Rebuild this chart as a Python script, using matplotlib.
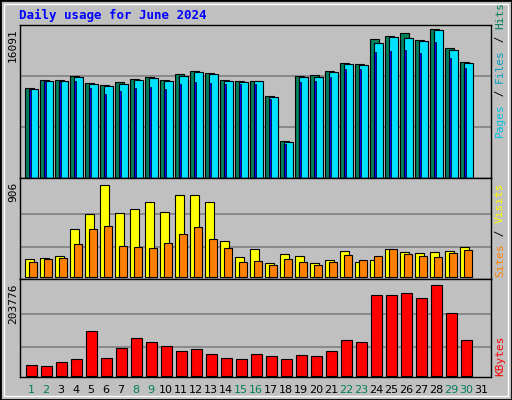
import matplotlib.pyplot as plt
import numpy as np

days = list(range(1, 32))
n = 30  # days with data
weekend = [1, 2, 8, 9, 15, 16, 22, 23, 29, 30]

hits = [9690, 10550, 10550, 10980, 10220, 10010, 10330, 10660, 10870, 10550,
        11190, 11520, 11300, 10550, 10440, 10440, 8820, 3960, 10980, 11090,
        11520, 12380, 12270, 14970, 15300, 15620, 14860, 16091, 14000, 12490]
files = [9580, 10440, 10440, 10870, 10110, 9900, 10110, 10550, 10760, 10440,
         10980, 11410, 11190, 10440, 10330, 10440, 8710, 3850, 10870, 10870,
         11410, 12270, 12160, 14540, 15190, 15080, 14750, 15940, 13780, 12380]
pages = [9500, 10480, 10370, 10480, 9720, 9070, 9400, 9720, 9830, 9610,
         10150, 10370, 10260, 10150, 10150, 10150, 8530, 3670, 10370, 10480,
         10910, 11770, 11770, 13610, 13720, 13820, 13500, 14690, 12960, 11880]
sites = [180, 190, 203, 474, 621, 906, 631, 670, 739, 641, 808, 808, 739, 356, 199,
         278, 141, 229, 209, 141, 170, 258, 151, 170, 278, 249, 239, 249, 258, 298]
visits = [150, 180, 190, 327, 474, 504, 307, 298, 288, 337, 425, 494, 376, 288, 150,
          160, 121, 180, 150, 121, 150, 219, 170, 209, 278, 229, 209, 199, 239, 268]
kbytes = [25290, 23050, 31980, 38670, 101140, 40900, 63210, 85520, 76600, 67680,
          56520, 60980, 49830, 40900, 38670, 49830, 45370, 38670, 47600, 45370,
          56520, 81060, 76600, 181460, 181460, 185930, 174770, 203776, 141300, 81060]

W, H = 512, 400
fig = plt.figure(figsize=(W / 100, H / 100), dpi=100, facecolor='#C0C0C0')
mono = 'DejaVu Sans Mono'

# outer border
fig.add_artist(plt.Rectangle((0, 0), 1, 1, transform=fig.transFigure, fill=False,
                             edgecolor='black', linewidth=2))
fig.add_artist(plt.Rectangle((4 / W, 4 / H), 504 / W, 392 / H, transform=fig.transFigure,
                             fill=False, edgecolor='white', linewidth=1))


def panel(y0, y1):
    ax = fig.add_axes([20 / W, 1 - y1 / H, 471 / W, (y1 - y0) / H])
    ax.set_facecolor('#C0C0C0')
    ax.set_xlim(1 - 11 / 15, 1 - 11 / 15 + 471 / 15)
    ax.set_xticks([])
    ax.set_yticks([])
    for s in ax.spines.values():
        s.set_color('black')
        s.set_linewidth(1)
    return ax


x = np.arange(1, n + 1)
px = 1 / 15  # one pixel in day units

ax1 = panel(25, 178)
ax1.set_ylim(0, 153 * 108)
for g in [5508, 11016]:
    ax1.axhline(g, color='#808080', lw=1.2, zorder=0)
ax1.bar(x - 6 * px, hits, width=9 * px, align='edge', color='#00805C', edgecolor='black', lw=0.8)
ax1.bar(x - 2.5 * px, files, width=9 * px, align='edge', color='#00E0FF', edgecolor='black', lw=0.8)
ax1.bar(x - 2.5 * px, pages, width=2 * px, align='edge', color='#0000FF', edgecolor='black', lw=0.5)

ax2 = panel(178, 279)
ax2.set_ylim(-2 * 9.8, 99 * 9.8)
for g in [298, 621]:
    ax2.axhline(g, color='#808080', lw=1.2, zorder=0)
ax2.bar(x - 5.7 * px, sites, width=8.4 * px, align='edge', color='#FFFF00', edgecolor='black', lw=0.8)
ax2.bar(x - 1.7 * px, visits, width=7.4 * px, align='edge', color='#FF8000', edgecolor='black', lw=0.8)

ax3 = panel(279, 377)
ax3.set_ylim(-1 * 2231, 97 * 2231)
for g in [65450, 139070]:
    ax3.axhline(g, color='#808080', lw=1.2, zorder=0)
ax3.bar(x - 5 * px, kbytes, width=10.7 * px, align='edge', color='#FF0000', edgecolor='black', lw=0.8)

for d in days:
    ax3.text(d, -0.13, str(d), transform=ax3.get_xaxis_transform(), ha='center', va='center',
             fontsize=8, family='DejaVu Sans',
             color='#00805C' if d in weekend else 'black')

fig.text(19 / W, 1 - 15 / H, 'Daily usage for June 2024', color='#0000FF', fontsize=9,
         fontweight='bold', family=mono, va='center')
fig.text(13 / W, 1 - 28 / H, '16091', rotation=90, ha='center', va='top', fontsize=8, family=mono)
fig.text(13 / W, 1 - 182 / H, '906', rotation=90, ha='center', va='top', fontsize=8, family=mono)
fig.text(13 / W, 1 - 283 / H, '203776', rotation=90, ha='center', va='top', fontsize=8, family=mono)

renderer = fig.canvas.get_renderer()


def right_label(parts, ybottom):
    # rotated text reads bottom to top; stack pieces upward
    y = ybottom
    for txt, col in parts:
        t = fig.text(500 / W, 1 - y / H, txt, rotation=90, ha='center', va='bottom',
                     color=col, fontsize=8, family=mono)
        bb = t.get_window_extent(renderer)
        y -= bb.height


right_label([('Pages', '#00C0E0'), (' / ', 'black'), ('Files', '#00A0C0'),
             (' / ', 'black'), ('Hits', '#00805C')], 137)
right_label([('Sites', '#FF8000'), (' / ', 'black'), ('Visits', '#FFFF00')], 277)
right_label([('KBytes', '#FF0000')], 376)

fig.savefig('out.png', dpi=100, facecolor='#C0C0C0')
